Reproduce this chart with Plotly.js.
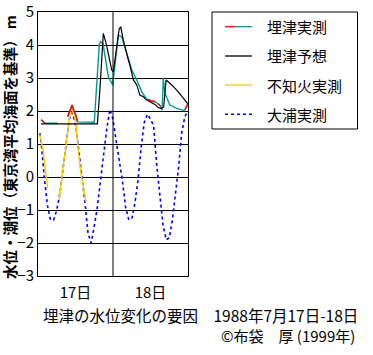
<!DOCTYPE html>
<html>
<head>
<meta charset="utf-8">
<script src="https://cdn.plot.ly/plotly-3.0.1.min.js"></script>
<style>html,body{margin:0;padding:0;background:#fff;}#chart{width:373px;height:355px;}</style>
</head>
<body>
<div id="chart"></div>
<script>
// 埋津実測 (observed at Uzu) — hours from 0:00 of 17th
const obsX = [0.96, 1.5, 2.0, 6.3, null, 9.5, 10.9, 11.3, 11.9, 12.7, 18.0, 18.2, 18.8, 19.6, 20.0, 20.8, 22.5, 23.9, 25.7, 26.8, 28.4, 30.0, 31.6, 33.2, 34.8, 36.0, 37.4, 38.4, 39.2, 39.7, 40.1, 40.6, 42.2, 44.4, 46.5, 47.0, 48.0];
const obsY = [1.73, 1.70, 1.63, 1.63, null, 1.83, 2.18, 2.05, 1.93, 1.67, 1.66, 1.93, 2.85, 4.00, 4.10, 4.05, 3.04, 2.79, 4.30, 4.25, 3.75, 3.25, 2.94, 2.58, 2.35, 2.32, 2.28, 2.22, 2.15, 2.03, 3.00, 2.54, 2.18, 2.08, 2.02, 2.03, 2.23];
// parts of the observed series drawn in red
const obsRedX = [0.96, 1.5, 2.0, null, 9.5, 10.9, 11.3, 11.9, 12.7, null, 34.8, 36.0, 37.4, null, 38.4, 39.2, null, 47.0, 48.0];
const obsRedY = [1.73, 1.70, 1.63, null, 1.83, 2.18, 2.05, 1.93, 1.67, null, 2.35, 2.32, 2.28, null, 2.22, 2.15, null, 2.03, 2.23];
// 埋津予想 (predicted)
const predX = [1.0, 19.0, 19.8, 20.9, 21.8, 23.6, 24.1, 26.0, 26.5, 26.8, 27.3, 28.9, 29.4, 30.5, 31.6, 32.6, 33.7, 34.8, 35.8, 37.4, 38.5, 39.6, 40.2, 41.0, 42.8, 44.9, 47.0, 48.0];
const predY = [1.61, 1.61, 2.64, 4.35, 4.05, 3.24, 3.19, 4.50, 4.54, 4.40, 4.15, 3.55, 3.39, 2.95, 2.79, 2.48, 2.43, 2.33, 2.28, 2.20, 2.10, 2.07, 2.12, 2.94, 2.79, 2.58, 2.33, 2.21];
// 不知火実測
const shiranuiX = [0.64, 1.7, 2.56, 3.1, null, 6.8, 7.0, 8.0, 9.0, 10.0, 10.4, 11.0, 11.6, 12.2, 13.0, 13.8, 14.8, 15.4];
const shiranuiY = [1.27, 0.77, 0.06, -0.34, null, -0.70, -0.50, 0.30, 0.97, 1.88, 2.08, 2.00, 1.88, 1.58, 0.67, 0.06, -0.50, -0.75];
// 大浦実測
const ouraX = [0.6, 1, 2, 3, 4, 5, 6, 7, 8, 9, 10, 11, 12, 13, 14, 15, 16, 17, 18, 19, 20, 21, 22, 23, 24, 25, 26, 27, 28, 29, 30, 31, 32, 33, 34, 35, 36, 37, 38, 39, 40, 41, 42, 43, 44, 45, 46, 47, 48];
const ouraY = [1.32, 1.05, 0.0, -0.85, -1.3, -1.3, -1.0, -0.5, 0.25, 1.1, 1.75, 1.95, 1.6, 0.85, 0.1, -0.75, -1.7, -2.0, -1.5, -0.9, -0.1, 0.7, 1.45, 2.05, 1.75, 1.1, 0.5, -0.1, -0.9, -1.28, -1.28, -0.8, -0.1, 0.9, 1.65, 1.9, 1.75, 1.55, 0.35, -0.55, -1.45, -1.9, -1.85, -1.3, -0.5, 0.3, 1.35, 1.83, 2.0];

const dayTickVals = [12, 36];
const dayTickText = ['17日', '18日'];
const legendNames = ['埋津実測', '埋津予想', '不知火実測', '大浦実測'];
const yTitle = '水位・潮位（東京湾平均海面を基準） m';
const titleLine1 = '埋津の水位変化の要因　1988年7月17日-18日';
const titleLine2 = '©布袋　厚 (1999年)';

const TEAL = '#009999', RED = '#ff0000', BLACK = '#000000', GOLD = '#ffcc00', BLUE = '#0000ff';
const FONT = 'Noto Sans CJK JP, sans-serif';

const traces = [
  {x: ouraX, y: ouraY, mode: 'lines', line: {color: BLUE, width: 1.6, dash: 'dot'}, name: legendNames[3], showlegend: false},
  {x: shiranuiX, y: shiranuiY, mode: 'lines', line: {color: GOLD, width: 1.5}, name: legendNames[2], showlegend: false, connectgaps: false},
  {x: obsX, y: obsY, mode: 'lines', line: {color: TEAL, width: 1.4}, name: legendNames[0], showlegend: false, connectgaps: false},
  {x: predX, y: predY, mode: 'lines', line: {color: BLACK, width: 1.2}, name: legendNames[1], showlegend: false},
  {x: obsRedX, y: obsRedY, mode: 'lines', line: {color: RED, width: 1.4}, name: legendNames[0], showlegend: false, connectgaps: false}
];

// plot area in pixels: left 38, right 188, top 12, bottom 276
const L = 38, R = 188, T = 12, B = 276;
const px = v => (v - L) / (R - L);
const py = v => (B - v) / (B - T);

const shapes = [
  {type: 'line', xref: 'x', yref: 'paper', x0: 24, x1: 24, y0: 0, y1: 1, line: {color: BLACK, width: 1}},
  // legend box
  {type: 'rect', xref: 'paper', yref: 'paper', x0: px(212), x1: px(357.5), y0: py(12), y1: py(129), line: {color: BLACK, width: 1}, fillcolor: 'rgba(0,0,0,0)'}
];
const rowsY = [26.7, 56, 85, 114.3];
const legendLines = [
  [{c: RED, a: 225, b: 235}, {c: TEAL, a: 235, b: 252}],
  [{c: BLACK, a: 225, b: 252}],
  [{c: GOLD, a: 225, b: 252}],
  [{c: BLUE, a: 225, b: 252, d: 'dot'}]
];
legendLines.forEach((segs, i) => segs.forEach(s => shapes.push({
  type: 'line', xref: 'paper', yref: 'paper', x0: px(s.a), x1: px(s.b), y0: py(rowsY[i]), y1: py(rowsY[i]),
  line: {color: s.c, width: s.d ? 1.6 : 1.3, dash: s.d || 'solid'}
})));

const annotations = legendNames.map((n, i) => ({
  xref: 'paper', yref: 'paper', x: px(265), y: py(rowsY[i]), xanchor: 'left', yanchor: 'middle',
  text: n, showarrow: false, font: {family: FONT, size: 15, color: BLACK}
}));
annotations.push({
  xref: 'paper', yref: 'paper', x: px(9), y: py(147), xanchor: 'center', yanchor: 'middle', textangle: -90,
  text: '<b>' + yTitle + '</b>', showarrow: false, font: {family: FONT, size: 14.5, color: BLACK}
});
annotations.push({
  xref: 'paper', yref: 'paper', x: px(41), y: py(315), xanchor: 'left', yanchor: 'middle',
  text: titleLine1, showarrow: false, font: {family: FONT, size: 15.5, color: BLACK}
});
annotations.push({
  xref: 'paper', yref: 'paper', x: px(357), y: py(335), xanchor: 'right', yanchor: 'middle',
  text: titleLine2, showarrow: false, font: {family: FONT, size: 15, color: BLACK}
});

const layout = {
  width: 373, height: 355,
  margin: {l: L, r: 373 - R, t: T, b: 355 - B, pad: 0},
  paper_bgcolor: '#fff', plot_bgcolor: '#fff',
  showlegend: false,
  font: {family: FONT, size: 15, color: BLACK},
  xaxis: {range: [0, 48], tickvals: dayTickVals, ticktext: dayTickText, showgrid: false, zeroline: false,
          showline: true, mirror: true, linecolor: BLACK, linewidth: 1, ticks: '', ticklabelstandoff: 3,
          tickfont: {size: 15, family: FONT}},
  yaxis: {range: [-3, 5], dtick: 1, tick0: 0, showgrid: true, gridcolor: BLACK, gridwidth: 1, zeroline: false,
          showline: true, mirror: true, linecolor: BLACK, linewidth: 1, ticks: '', tickfont: {size: 15, family: FONT}},
  shapes: shapes,
  annotations: annotations
};

Plotly.newPlot('chart', traces, layout, {staticPlot: true, displayModeBar: false});
</script>
</body>
</html>
